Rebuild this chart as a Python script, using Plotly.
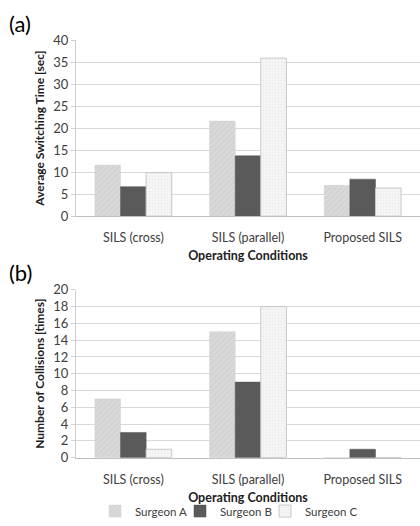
import plotly.graph_objects as go

categories = ["SILS (cross)", "SILS (parallel)", "Proposed SILS"]
surgeons = ["Surgeon A", "Surgeon B", "Surgeon C"]
switch_time = {
    "Surgeon A": [11.6, 21.6, 7.0],
    "Surgeon B": [6.7, 13.7, 8.4],
    "Surgeon C": [9.9, 35.9, 6.4],
}
collisions = {
    "Surgeon A": [7, 15, 0],
    "Surgeon B": [3, 9, 1],
    "Surgeon C": [1, 18, 0],
}

W, H = 420, 526  # nominal page size used to express positions as fractions
styles = {
    "Surgeon A": dict(color="#d4d4d4", pattern=dict(shape="/", fgcolor="#c2c2c2", bgcolor="#d9d9d9", size=4, solidity=0.25),
                      line=dict(color="#d0d0d0", width=0.5)),
    "Surgeon B": dict(color="#5a5a5a", line=dict(color="#555555", width=0.5)),
    "Surgeon C": dict(color="#f4f4f4", pattern=dict(shape=".", fgcolor="#dcdcdc", bgcolor="#f8f8f8", size=3, solidity=0.4),
                      line=dict(color="#c8c8c8", width=1)),
}
legend_ids = {"Surgeon A": "legend", "Surgeon B": "legend2", "Surgeon C": "legend3"}

fig = go.Figure()
for s in surgeons:
    fig.add_trace(go.Bar(x=categories, y=switch_time[s], name=s, marker=styles[s],
                         xaxis="x", yaxis="y", showlegend=False))
for s in surgeons:
    fig.add_trace(go.Bar(x=categories, y=collisions[s], name=s, marker=styles[s],
                         xaxis="x2", yaxis="y2", showlegend=True, legend=legend_ids[s]))

font = "Lato, 'Open Sans', sans-serif"
xdom = [76 / W, 420 / W]
ya = [1 - 219.5 / H, 1 - 40.7 / H]
yb = [1 - 464.7 / H, 1 - 294.3 / H]

xcommon = dict(domain=xdom, showgrid=False, showline=True, linecolor="#bfbfbf", linewidth=1,
               ticks="", ticklabelstandoff=10, tickfont=dict(size=12.5, color="#404040", family=font),
               title=dict(text="<b>Operating Conditions</b>", font=dict(size=12.5, color="#202020", family=font), standoff=7),
               automargin=False)
ycommon = dict(showgrid=True, gridcolor="#d9d9d9", gridwidth=1, showline=True, linecolor="#d0d0d0",
               ticks="outside", ticklen=4, tickcolor="#d0d0d0",
               tickfont=dict(size=13, color="#404040", family=font), zeroline=False, automargin=False)

def leg(xleft):
    return dict(orientation="h", x=xleft / W, xanchor="left", y=1 - 519 / H, yanchor="middle",
                font=dict(size=11.5, color="#404040", family=font), itemwidth=30,
                bgcolor="rgba(0,0,0,0)")

fig.update_layout(
    autosize=True, margin=dict(l=0, r=0, t=0, b=0),
    paper_bgcolor="white", plot_bgcolor="white",
    font=dict(family=font, color="#404040"),
    barmode="group", bargap=0.33, bargroupgap=0,
    xaxis=dict(anchor="y", **xcommon),
    xaxis2=dict(anchor="y2", **xcommon),
    yaxis=dict(anchor="x", domain=ya, range=[0, 40], dtick=5,
               title=dict(text="<b>Average Switching Time [sec]</b>", font=dict(size=12, color="#202020", family=font), standoff=6),
               **ycommon),
    yaxis2=dict(anchor="x2", domain=yb, range=[0, 20], dtick=2,
                title=dict(text="<b>Number of Collisions [times]</b>", font=dict(size=12, color="#202020", family=font), standoff=6),
                **ycommon),
    legend=leg(95), legend2=leg(180), legend3=leg(265),
    annotations=[
        dict(text="(a)", x=7 / W, y=1 - 24 / H, xref="paper", yref="paper", xanchor="left", yanchor="middle",
             showarrow=False, font=dict(size=22, color="#000000", family=font)),
        dict(text="(b)", x=7 / W, y=1 - 277 / H, xref="paper", yref="paper", xanchor="left", yanchor="middle",
             showarrow=False, font=dict(size=22, color="#000000", family=font)),
    ],
)

fig.write_html(
    "out.html",
    config={"displayModeBar": False},
    default_width="100vw",
    default_height="100vh",
    post_script="document.body.style.margin='0';document.body.style.overflow='hidden';"
                "document.documentElement.style.overflow='hidden';",
)
